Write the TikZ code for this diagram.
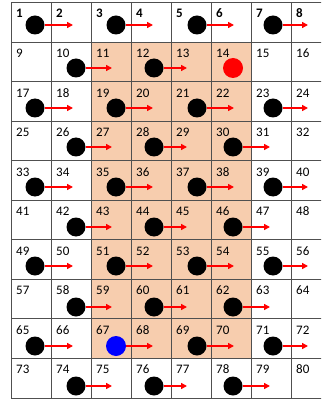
\documentclass[tikz,border=0pt]{standalone}
\usepackage{fontspec}
\setmainfont{Carlito}
\usetikzlibrary{arrows.meta}
\definecolor{peach}{HTML}{F7CDAE}
\definecolor{gridgray}{HTML}{505050}
\begin{document}
\begin{tikzpicture}[x=1pt,y=-1pt,
  gridline/.style={draw=gridgray,line width=0.9pt},
  cellnum/.style={anchor=base west,inner sep=0pt,font=\fontsize{13}{13}\selectfont},
  row0/.style={font=\fontsize{13}{13}\selectfont\bfseries},
  dotnode/.style={circle,fill=black,inner sep=0pt,minimum size=19pt},
  dot14/.style={fill=red,minimum size=20pt},
  dot67/.style={fill=blue,minimum size=20pt},
  mover/.style={draw=red,line width=1.5pt,-{Triangle[length=6pt,width=6pt]}},
]
\fill[white] (0,0) rectangle (321,403);
\clip (0,0) rectangle (321,403);
% shaded block
\fill[peach] (91,42.05) rectangle (251,358.45);
% grid
\foreach \i in {0,...,8} {\draw[gridline] (11+40*\i,2.5) -- (11+40*\i,398);}
\foreach \j in {0,...,10} {\draw[gridline] (11,2.5+39.55*\j) -- (331,2.5+39.55*\j);}
% numbers
\foreach \r in {0,...,9} {
  \foreach \c in {0,...,7} {
    \pgfmathtruncatemacro\n{8*\r+\c+1}
    \node[cellnum,row\r/.try] (n\n) at (16+40*\c,2.5+39.55*\r+15.5) {\n};
  }
}
% dots in odd-type rows
\foreach \r/\y in {0/25,2/108,4/187,6/266,8/346} {
  \foreach \c/\x/\ex in {0/35/73,2/116/153,4/197/234,6/273/308} {
    \pgfmathtruncatemacro\n{8*\r+\c+1}
    \node[dotnode,dot\n/.try] (d\n) at (\x,\y) {};
    \coordinate (e\n) at (\ex,\y);
    \draw[mover] (d\n) -- (e\n);
  }
}
% dots in even-type rows
\foreach \r/\y in {1/68,3/147,5/227,7/307,9/386} {
  \foreach \c/\x/\ex in {1/76/112,3/154/187,5/233/270} {
    \pgfmathtruncatemacro\n{8*\r+\c+1}
    \node[dotnode,dot\n/.try] (d\n) at (\x,\y) {};
    \ifnum\n=14\relax\else
      \coordinate (e\n) at (\ex,\y);
      \draw[mover] (d\n) -- (e\n);
    \fi
  }
}
\end{tikzpicture}
\end{document}
